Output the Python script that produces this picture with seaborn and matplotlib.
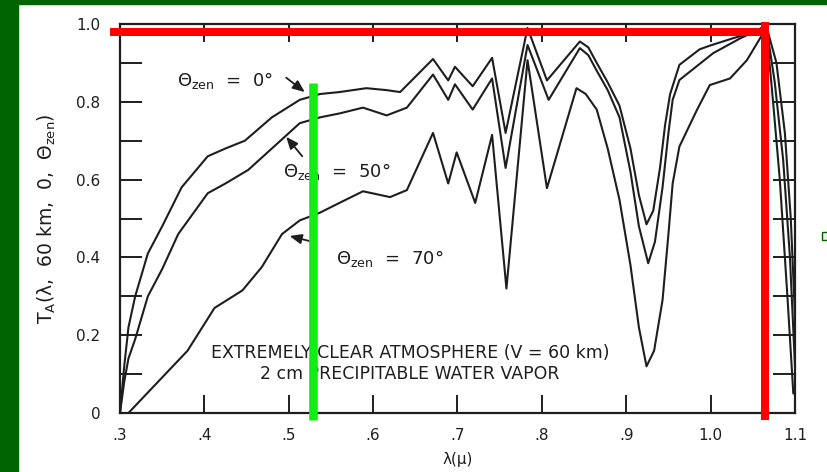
import matplotlib
matplotlib.use("Agg")
import numpy as np
import pandas as pd
import matplotlib.pyplot as plt
import seaborn as sns
from matplotlib.patches import Rectangle

# wavelength (micron) / transmittance
wl_0 = [0.300, 0.305, 0.310, 0.318, 0.333, 0.350, 0.373, 0.404, 0.425, 0.448, 0.480, 0.513,
        0.537, 0.560, 0.592, 0.616, 0.632, 0.671, 0.689, 0.697, 0.718, 0.741, 0.757, 0.783,
        0.806, 0.845, 0.855, 0.865, 0.878, 0.892, 0.905, 0.915, 0.924, 0.932, 0.940, 0.946,
        0.952, 0.963, 0.987, 1.000, 1.026, 1.045, 1.066, 1.078, 1.088, 1.095, 1.100]
t_0 = [0.00, 0.12, 0.22, 0.30, 0.41, 0.48, 0.58, 0.66, 0.68, 0.70, 0.76, 0.805,
       0.82, 0.825, 0.835, 0.83, 0.825, 0.91, 0.855, 0.89, 0.84, 0.913, 0.72, 0.99,
       0.855, 0.955, 0.94, 0.90, 0.85, 0.79, 0.68, 0.56, 0.485, 0.52, 0.63, 0.74,
       0.82, 0.895, 0.935, 0.945, 0.963, 0.975, 0.995, 0.90, 0.72, 0.50, 0.25]

wl_50 = [0.300, 0.305, 0.310, 0.318, 0.333, 0.350, 0.369, 0.404, 0.425, 0.452, 0.480, 0.513,
         0.537, 0.560, 0.588, 0.616, 0.640, 0.671, 0.689, 0.697, 0.718, 0.741, 0.757, 0.783,
         0.808, 0.845, 0.855, 0.865, 0.878, 0.892, 0.905, 0.915, 0.926, 0.934, 0.943, 0.950,
         0.955, 0.963, 1.003, 1.035, 1.066, 1.076, 1.086, 1.094, 1.100]
t_50 = [0.00, 0.08, 0.14, 0.19, 0.30, 0.37, 0.46, 0.565, 0.59, 0.625, 0.68, 0.745,
        0.76, 0.77, 0.785, 0.765, 0.785, 0.87, 0.805, 0.845, 0.78, 0.86, 0.63, 0.946,
        0.805, 0.938, 0.92, 0.88, 0.83, 0.76, 0.62, 0.48, 0.385, 0.44, 0.58, 0.72,
        0.805, 0.856, 0.925, 0.963, 0.995, 0.85, 0.65, 0.40, 0.12]

wl_70 = [0.310, 0.345, 0.380, 0.412, 0.445, 0.468, 0.492, 0.513, 0.537, 0.560, 0.588, 0.620,
         0.640, 0.671, 0.689, 0.699, 0.721, 0.741, 0.758, 0.783, 0.806, 0.841, 0.852, 0.865,
         0.878, 0.892, 0.905, 0.915, 0.924, 0.933, 0.943, 0.950, 0.955, 0.963, 0.984, 0.999,
         1.023, 1.043, 1.066, 1.074, 1.082, 1.091, 1.098]
t_70 = [0.00, 0.08, 0.16, 0.27, 0.315, 0.375, 0.46, 0.495, 0.515, 0.54, 0.57, 0.555,
        0.573, 0.72, 0.59, 0.67, 0.54, 0.715, 0.32, 0.907, 0.578, 0.835, 0.82, 0.78,
        0.68, 0.548, 0.38, 0.22, 0.12, 0.16, 0.29, 0.46, 0.59, 0.685, 0.78, 0.843,
        0.86, 0.907, 0.99, 0.80, 0.60, 0.30, 0.05]

series = {"0": (wl_0, t_0), "50": (wl_50, t_50), "70": (wl_70, t_70)}

x_ticks = [0.3, 0.4, 0.5, 0.6, 0.7, 0.8, 0.9, 1.0, 1.1]
x_tick_labels = [".3", ".4", ".5", ".6", ".7", ".8", ".9", "1.0", "1.1"]
y_ticks = [0.0, 0.2, 0.4, 0.6, 0.8, 1.0]
y_tick_labels = ["0", "0.2", "0.4", "0.6", "0.8", "1.0"]
y_minor = [0.1, 0.3, 0.5, 0.7, 0.9]

# slide overlay marks (red bracket, green marker line)
red_h_x = [0.288, 1.064]
red_h_y = [0.979, 0.979]
red_v_x = [1.064, 1.064]
red_v_y = [1.005, -0.018]
green_x = [0.529, 0.529]
green_y = [0.848, -0.018]

ink = "#1e1e1e"

sns.set_theme(style="ticks")
plt.rcParams["font.family"] = ["DejaVu Sans"]
plt.rcParams["mathtext.fontset"] = "dejavusans"

fig = plt.figure(figsize=(8.28, 4.72), dpi=100)
fig.patch.set_facecolor("white")
ax = fig.add_axes([120 / 828, 59 / 472, 675 / 828, 389 / 472])

for name, (xs, ys) in series.items():
    df = pd.DataFrame({"wavelength": xs, "T": ys})
    sns.lineplot(data=df, x="wavelength", y="T", sort=False, color=ink,
                 linewidth=1.5, ax=ax)

ax.set_xlim(0.3, 1.1)
ax.set_ylim(0.0, 1.0)
ax.set_xticks(x_ticks)
ax.set_xticklabels(x_tick_labels)
ax.set_yticks(y_ticks)
ax.set_yticklabels(y_tick_labels)
ax.set_yticks(y_minor, minor=True)
ax.tick_params(axis="x", which="major", direction="in", length=13, width=1.4,
               top=True, bottom=True, labelsize=11, colors=ink, pad=11)
ax.tick_params(axis="y", which="both", direction="in", length=16, width=1.4,
               left=True, right=True, labelsize=11, colors=ink, pad=14)
for sp in ax.spines.values():
    sp.set_color(ink)
    sp.set_linewidth(1.6)

ax.set_xlabel("λ(μ)", fontsize=11, color=ink, labelpad=6)
ax.set_ylabel(r"T$_{\rm A}$(λ,  60 km,  0,  $\Theta_{\rm zen}$)", fontsize=13.5, color=ink)
ax.yaxis.set_label_coords(-0.092, 0.5)

ann = dict(fontsize=13, color=ink, ha="center", va="center")
arrow = dict(arrowstyle="-|>,head_length=0.6,head_width=0.25", color=ink, lw=1.3,
             shrinkA=0, shrinkB=0)
ax.annotate("", xy=(0.519, 0.825), xytext=(0.497, 0.862), arrowprops=arrow)
ax.text(0.424, 0.855, r"$\Theta_{\rm zen}$  =  0°", **ann)
ax.annotate("", xy=(0.497, 0.71), xytext=(0.516, 0.66), arrowprops=arrow)
ax.text(0.557, 0.62, r"$\Theta_{\rm zen}$  =  50°", **ann)
ax.annotate("", xy=(0.501, 0.455), xytext=(0.532, 0.438), arrowprops=arrow)
ax.text(0.62, 0.398, r"$\Theta_{\rm zen}$  =  70°", **ann)

ax.text(0.644, 0.153, "EXTREMELY CLEAR ATMOSPHERE (V = 60 km)", fontsize=12.5,
        color=ink, ha="center", va="center")
ax.text(0.644, 0.100, "2 cm PRECIPITABLE WATER VAPOR", fontsize=12.5,
        color=ink, ha="center", va="center")

ax.plot(red_h_x, red_h_y, color="#ff0000", lw=5.8, solid_capstyle="butt",
        clip_on=False, zorder=10)
ax.plot(red_v_x, red_v_y, color="#ff0000", lw=5.8, solid_capstyle="butt",
        clip_on=False, zorder=10)
ax.plot(green_x, green_y, color="#11ee11", lw=6.2, solid_capstyle="butt",
        clip_on=False, zorder=10)

# dark green slide frame
fig.add_artist(Rectangle((0, 0), 18 / 828, 1, transform=fig.transFigure,
                         color="#006400", zorder=0))
fig.add_artist(Rectangle((0, 1 - 4 / 472), 1, 4 / 472, transform=fig.transFigure,
                         color="#006400", zorder=0))
fig.add_artist(Rectangle((822 / 828, 1 - 240 / 472), 6 / 828, 8 / 472,
                         transform=fig.transFigure, facecolor="#e8f0e8",
                         edgecolor="#006400", lw=1.0, zorder=0))

fig.savefig("out.png", dpi=100, facecolor="white")
